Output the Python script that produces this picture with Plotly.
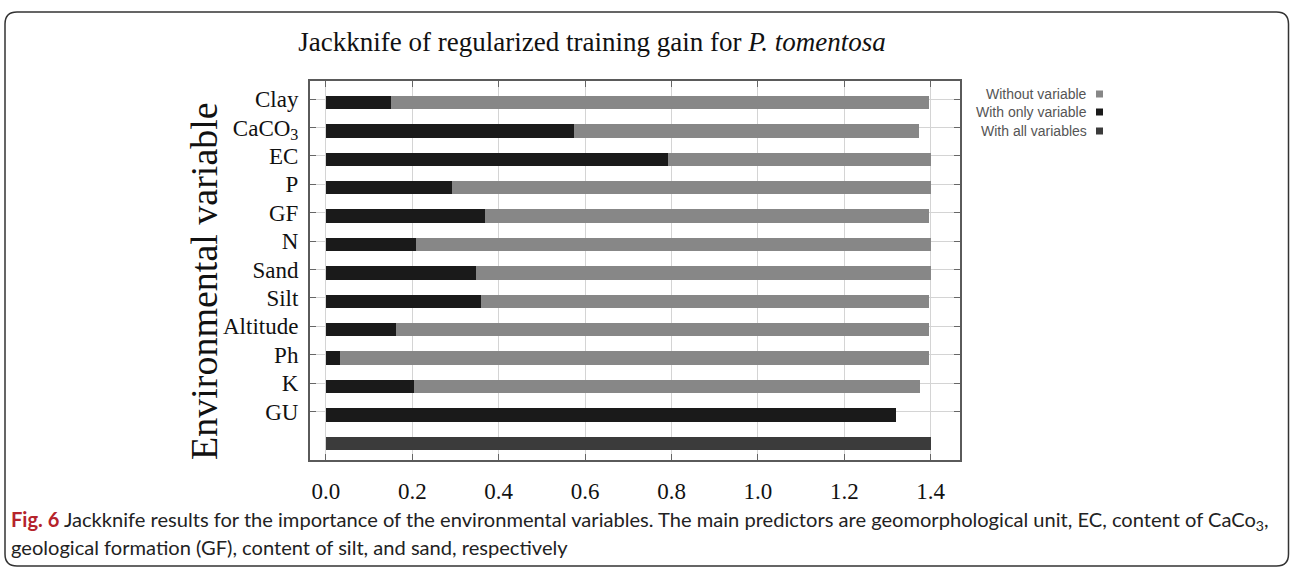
import plotly.graph_objects as go

# Jackknife of regularized training gain
variables = ["Clay", "CaCO<sub>3</sub>", "EC", "P", "GF", "N", "Sand",
             "Silt", "Altitude", "Ph", "K", "GU"]
without_variable = [1.396, 1.372, 1.401, 1.400, 1.396, 1.401, 1.400,
                    1.396, 1.396, 1.396, 1.376, None]
with_only_variable = [0.150, 0.574, 0.791, 0.291, 0.369, 0.208, 0.348,
                      0.360, 0.162, 0.032, 0.203, 1.319]
with_all_variables = [1.401]
x_ticks = [0.0, 0.2, 0.4, 0.6, 0.8, 1.0, 1.2, 1.4]

SERIF = "Liberation Serif, Times New Roman, serif"
SANS = "Liberation Sans, Arial, sans-serif"
NARROW = "Lato, sans-serif"

# plot-area pixel box, used to place annotations and shapes in paper units
L, R, T, B = 310, 960, 81, 460
W, H = 1290, 567


def px(x):
    return (x - L) / (R - L)


def py(y):
    return (B - y) / (B - T)


n = len(variables)
rows = [n - i for i in range(n)]  # Clay on top, GU at 1, all variables at 0

fig = go.Figure()
fig.add_trace(go.Bar(
    x=without_variable, y=rows, orientation="h", name="Without variable",
    marker=dict(color="#878787", line=dict(width=0)), width=0.47,
))
fig.add_trace(go.Bar(
    x=with_only_variable, y=rows, orientation="h", name="With only variable",
    marker=dict(color="#1a1a1a", line=dict(width=0)), width=0.47,
))
fig.add_trace(go.Bar(
    x=with_all_variables, y=[0], orientation="h", name="With all variables",
    marker=dict(color="#3b3b3b", line=dict(width=0)), width=0.47,
))

fig.update_layout(
    width=W, height=H, autosize=False,
    margin=dict(l=L, r=W - R, t=T, b=H - B),
    paper_bgcolor="white", plot_bgcolor="white",
    barmode="overlay", showlegend=False, bargap=0,
    title=dict(
        text="Jackknife of regularized training gain for <i>P. tomentosa</i>",
        font=dict(family=SERIF, size=27, color="#111"),
        xref="paper", x=px(592), xanchor="center",
        yref="container", y=1 - 42 / H, yanchor="middle",
    ),
    xaxis=dict(
        range=[-0.037, 1.468], tickvals=x_ticks,
        ticktext=[f"{v:.1f}" for v in x_ticks],
        tickfont=dict(family=SERIF, size=23, color="#111"),
        ticks="inside", ticklen=6, tickcolor="#666",
        showline=True, linecolor="#5a5a5a", linewidth=2, mirror="ticks",
        showgrid=True, gridcolor="#d4d4d4", gridwidth=1, zeroline=False,
        ticklabelstandoff=9,
    ),
    yaxis=dict(
        range=[-0.59, 12.76],
        tickvals=[r + 0.12 for r in rows], ticktext=variables,
        tickfont=dict(family=SERIF, size=23, color="#111"),
        ticks="inside", ticklen=6, tickcolor="#666",
        showline=True, linecolor="#5a5a5a", linewidth=2, mirror="ticks",
        showgrid=True, gridcolor="#d4d4d4", gridwidth=1, zeroline=False,
        ticklabelstandoff=5,
    ),
)

# y-axis title
fig.add_annotation(
    text="Environmental variable", textangle=-90,
    xref="paper", yref="paper", x=px(204), y=py(281),
    xanchor="center", yanchor="middle", showarrow=False,
    font=dict(family=SERIF, size=38, color="#111"),
)

# legend: text on the left, small square on the right
legend_items = [("Without variable", "#878787", 94),
                ("With only variable", "#1a1a1a", 112),
                ("With all variables", "#3b3b3b", 131)]
for label, color, y in legend_items:
    fig.add_annotation(
        text=label, xref="paper", yref="paper", x=px(1089), y=py(y),
        xanchor="right", yanchor="middle", showarrow=False,
        font=dict(family=SANS, size=14, color="#555"),
    )
    fig.add_shape(
        type="rect", xref="paper", yref="paper",
        x0=px(1096), x1=px(1103), y0=py(y + 3.5), y1=py(y - 3.5),
        fillcolor=color, line=dict(width=0),
    )

# caption
fig.add_annotation(
    text="<b><span style='color:#b5232b'>Fig. 6</span></b> Jackknife results for the importance of the "
         "environmental variables. The main predictors are geomorphological unit, EC, content of CaCo<sub>3</sub>,",
    xref="paper", yref="paper", x=px(9), y=py(520),
    xanchor="left", yanchor="middle", showarrow=False, align="left",
    font=dict(family=NARROW, size=20.1, color="#222"),
)
fig.add_annotation(
    text="geological formation (GF), content of silt, and sand, respectively",
    xref="paper", yref="paper", x=px(9), y=py(547),
    xanchor="left", yanchor="middle", showarrow=False, align="left",
    font=dict(family=NARROW, size=20.1, color="#222"),
)

# rounded frame around the whole figure
x0, x1, y0, y1 = px(5), px(1288.5), py(12), py(566)
rx, ry = 12 / (R - L), 12 / (B - T)
path = (f"M {x0 + rx},{y0} L {x1 - rx},{y0} Q {x1},{y0} {x1},{y0 - ry} "
        f"L {x1},{y1 + ry} Q {x1},{y1} {x1 - rx},{y1} "
        f"L {x0 + rx},{y1} Q {x0},{y1} {x0},{y1 + ry} "
        f"L {x0},{y0 - ry} Q {x0},{y0} {x0 + rx},{y0} Z")
fig.add_shape(type="path", path=path, xref="paper", yref="paper",
              line=dict(color="#333", width=1.5), layer="below")

# drop the default 8px page margin so the figure sits at the window origin
fig.write_html("out.html", config={"displayModeBar": False},
               post_script="document.body.style.margin='0';")
